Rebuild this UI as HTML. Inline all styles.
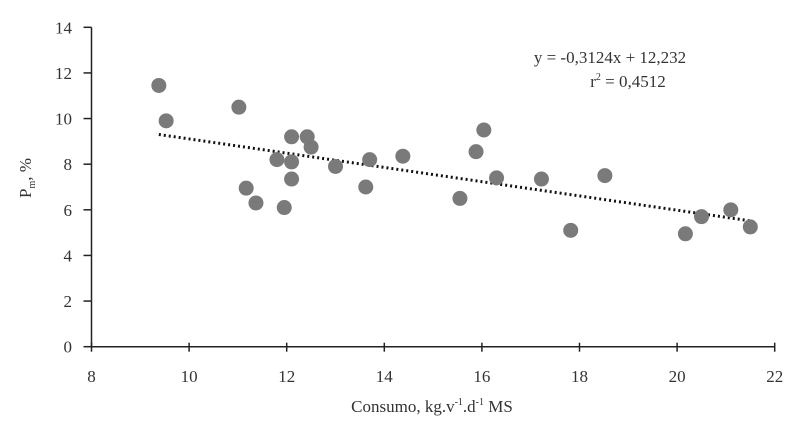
<!DOCTYPE html>
<html><head><meta charset="utf-8"><style>
body{margin:0;background:#fff;}
svg{display:block;font-family:"Liberation Serif",serif;fill:#333;}
</style></head><body>
<svg id="chart" width="812" height="433" viewBox="0 0 812 433" xmlns="http://www.w3.org/2000/svg">
<g id="axes"></g>
<g id="trend"></g>
<g id="points"></g>
<text x="610" y="63" font-size="17" text-anchor="middle">y = -0,3124x + 12,232</text>
<text x="628" y="87" font-size="17" text-anchor="middle">r<tspan font-size="10" dy="-7">2</tspan><tspan dy="7"> = 0,4512</tspan></text>
<text x="432" y="412" font-size="17" text-anchor="middle">Consumo, kg.v<tspan font-size="10" dy="-7">-1</tspan><tspan dy="7">.d</tspan><tspan font-size="10" dy="-7">-1</tspan><tspan dy="7"> MS</tspan></text>
<text transform="translate(31,178) rotate(-90)" font-size="17" text-anchor="middle">P<tspan font-size="10" dy="4">m</tspan><tspan dy="-4">, %</tspan></text>
</svg>
<script>
const xs=[9.38,9.53,11.02,11.17,11.37,11.8,11.95,12.1,12.1,12.1,12.42,12.5,13.0,13.62,13.7,14.38,15.55,15.88,16.04,16.3,17.22,17.82,18.52,20.17,20.5,21.1,21.5];
const ys=[11.45,9.9,10.5,6.95,6.3,8.2,6.1,9.2,8.1,7.35,9.2,8.75,7.9,7.0,8.2,8.35,6.5,8.55,9.5,7.4,7.35,5.1,7.5,4.95,5.7,6.0,5.25];
const xTicks=[8,10,12,14,16,18,20,22];
const yTicks=[0,2,4,6,8,10,12,14];
const slope=-0.3124, intercept=12.232;
const NS="http://www.w3.org/2000/svg";
const X=v=>91.5+(v-8)*(774.7-91.5)/14;
const Y=v=>346.7-v*(346.7-27.3)/14;
function mk(t,a,p){const e=document.createElementNS(NS,t);for(const k in a)e.setAttribute(k,a[k]);p.appendChild(e);return e;}
const ax=document.getElementById('axes');
let e=mk('line',{x1:X(8),y1:Y(0),x2:X(22),y2:Y(0),stroke:'#222','stroke-width':1.5},ax);


e=mk('line',{x1:X(8),y1:Y(0),x2:X(8),y2:Y(14),stroke:'#222','stroke-width':1.5},ax);


xTicks.forEach(t=>{
 let l=mk('line',{x1:X(t),y1:Y(0)-4,x2:X(t),y2:Y(0)+5,stroke:'#222','stroke-width':1.5},ax);
 
 
 let s=mk('text',{x:X(t),y:382,'font-size':17,'text-anchor':'middle'},ax);s.textContent=t;
 
 
});
yTicks.forEach(t=>{
 let l=mk('line',{x1:X(8)-8,y1:Y(t),x2:X(8),y2:Y(t),stroke:'#222','stroke-width':1.5},ax);
 
 
 let s=mk('text',{x:72,y:Y(t)+6,'font-size':17,'text-anchor':'end'},ax);s.textContent=t;
 
 
});
const x0=Math.min(...xs), x1=Math.max(...xs);
e=mk('line',{x1:X(x0),y1:Y(slope*x0+intercept),x2:X(x1),y2:Y(slope*x1+intercept),stroke:'#111','stroke-width':3,'stroke-dasharray':'2 3'},document.getElementById('trend'));


const pg=document.getElementById('points');
xs.forEach((x,i)=>{
 const c=mk('circle',{cx:X(x),cy:Y(ys[i]),r:7.5,fill:'#7a7a7a'},pg);
 
 
});
</script>
</body></html>
